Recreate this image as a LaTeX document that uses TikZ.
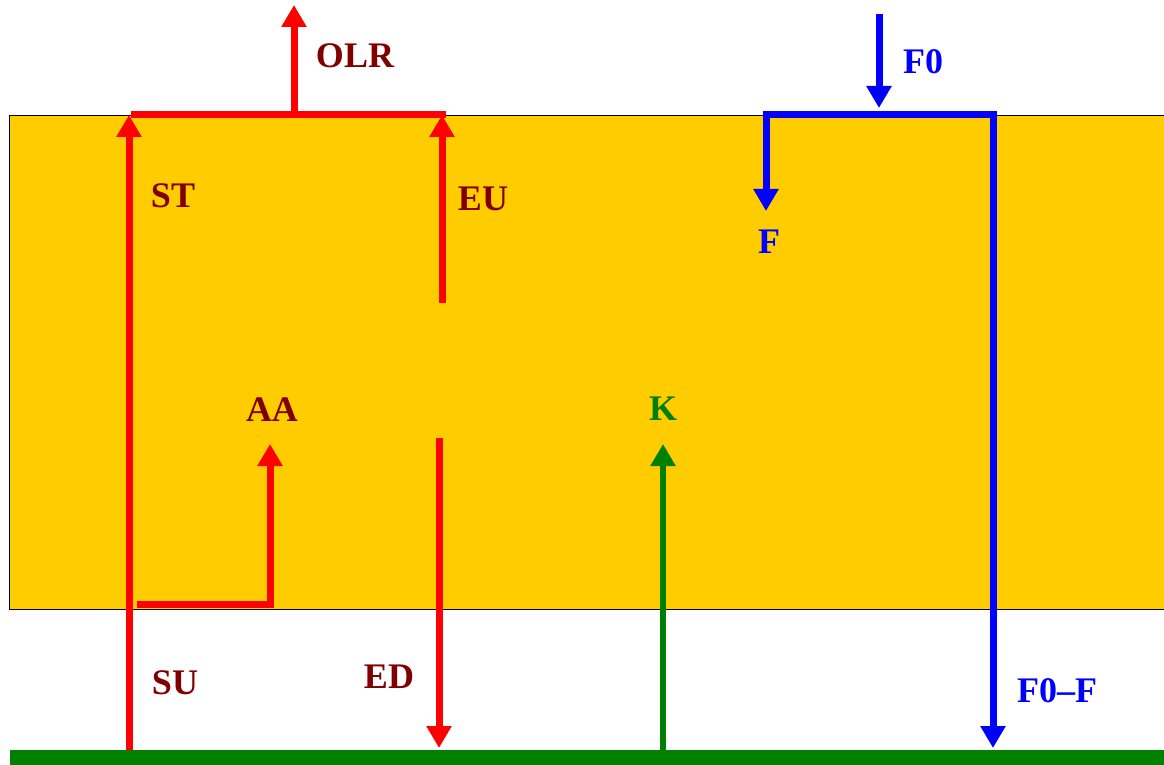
\documentclass[tikz,border=0pt]{standalone}
\usepackage{fontspec}
\setmainfont{Liberation Serif}
\usetikzlibrary{arrows.meta}
\definecolor{layer}{HTML}{FFCC00}
\definecolor{lbl}{HTML}{800000}
\definecolor{grass}{HTML}{008000}
\begin{document}
\begin{tikzpicture}[x=0.5pt,y=-0.5pt,>={Triangle[width=12pt,length=11pt]},
    flux/.style={line width=3.5pt},
    lab/.style={font=\fontsize{18}{21}\selectfont\bfseries,text=lbl}]
  \useasboundingbox (0,0) rectangle (1164,765);
  % atmosphere layer and ground
  \draw[fill=layer,thin] (9,115) rectangle (1172,609);
  \draw[grass,line width=7.5pt] (10,757) -- (1164,757);
  \coordinate (su0) at (129,750); \coordinate (st1) at (129,115);
  \coordinate (eu0) at (442,303); \coordinate (eu1) at (442,115);
  \coordinate (top) at (294,115); \coordinate (olr) at (294,5);
  % longwave fluxes
  \draw[flux,red,->] (su0) -- (st1);
  \draw[flux,red,->] (eu0) -- (eu1);
  \draw[flux,red] (131,115) -- (446,115);
  \draw[flux,red,->] (top) -- (olr);
  \draw[flux,red,->] (439,438) -- (439,748);
  \draw[flux,red,->] (137,604) -- (270,604) -- (270,444);
  \draw[line width=3pt,grass,->] (663,750) -- (663,444);
  % shortwave fluxes
  \draw[flux,blue,->] (879,14) -- (879,108);
  \draw[flux,blue,<->] (766,211) -- (766,115) -- (993,115) -- (993,748);
  \node[lab] (OLR) at (355,56) {OLR};
  \node[lab] (ST) at (173,196) {ST};
  \node[lab] (EU) at (483,199) {EU};
  \node[lab] (AA) at (272,410) {AA};
  \node[lab] (SU) at (175,683) {SU};
  \node[lab] (ED) at (389,677) {ED};
  \node[lab,text=grass] (K) at (663,409) {K};
  \node[lab,text=blue] (F0) at (923,62) {F0};
  \node[lab,text=blue] (F) at (769,242) {F};
  \node[lab,text=blue] (F0F) at (1057,691) {F0--F};
\end{tikzpicture}
\end{document}
